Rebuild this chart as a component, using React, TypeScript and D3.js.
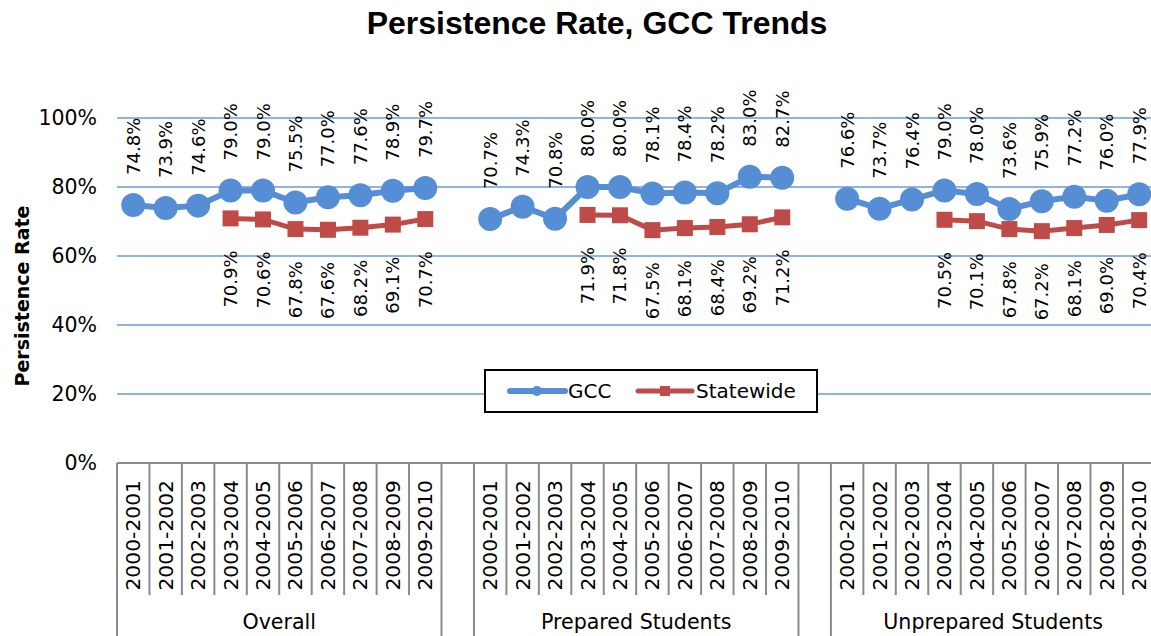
import React from 'react';
import * as d3 from 'd3';

const groups = ['Overall', 'Prepared Students', 'Unprepared Students'];
const years = ['2000-2001', '2001-2002', '2002-2003', '2003-2004', '2004-2005', '2005-2006', '2006-2007', '2007-2008', '2008-2009', '2009-2010'];

const gccOverall = [74.8, 73.9, 74.6, 79.0, 79.0, 75.5, 77.0, 77.6, 78.9, 79.7];
const gccPrepared = [70.7, 74.3, 70.8, 80.0, 80.0, 78.1, 78.4, 78.2, 83.0, 82.7];
const gccUnprepared = [76.6, 73.7, 76.4, 79.0, 78.0, 73.6, 75.9, 77.2, 76.0, 77.9];

const stateOverall = [null, null, null, 70.9, 70.6, 67.8, 67.6, 68.2, 69.1, 70.7];
const statePrepared = [null, null, null, 71.9, 71.8, 67.5, 68.1, 68.4, 69.2, 71.2];
const stateUnprepared = [null, null, null, 70.5, 70.1, 67.8, 67.2, 68.1, 69.0, 70.4];

const yTicks = [0, 20, 40, 60, 80, 100];

const gccSeries = [gccOverall, gccPrepared, gccUnprepared];
const stateSeries = [stateOverall, statePrepared, stateUnprepared];

const W = 1151;
const H = 636;
const GCC_COLOR = '#558ED5';
const STATE_COLOR = '#BE4B48';
const GRID_COLOR = '#8EB4E3';
const AXIS_COLOR = '#8A8A8A';
const FONT = '"DejaVu Sans", Verdana, sans-serif';

type Pt = { key: string; v: number | null };

export default function App() {
  const keys: string[] = [];
  groups.forEach((g, gi) => {
    years.forEach((yr) => keys.push(`${gi}|${yr}`));
    if (gi < groups.length - 1) keys.push(`${gi}|blank`);
  });

  const left = 117;
  const slotW = 32.45;
  const x = d3.scaleBand<string>().domain(keys).range([left, left + keys.length * slotW]).paddingInner(0).paddingOuter(0);
  const y = d3.scaleLinear().domain([0, 100]).range([463, 118]);
  const cx = (k: string) => (x(k) as number) + x.bandwidth() / 2;

  const line = d3
    .line<Pt>()
    .defined((d) => d.v != null)
    .x((d) => cx(d.key))
    .y((d) => y(d.v as number));

  const axisY = y(0);
  const bottom = H + 5;
  const yearDivBottom = 595;

  const groupPts = (series: (number | null)[][]) =>
    series.map((vals, gi) => vals.map((v, i) => ({ key: `${gi}|${years[i]}`, v })));

  const gccPts = groupPts(gccSeries as (number | null)[][]);
  const statePts = groupPts(stateSeries);

  const yearDividers: number[] = [];
  const groupDividers: number[] = [];
  groups.forEach((g, gi) => {
    years.forEach((yr, i) => {
      const xl = x(`${gi}|${yr}`) as number;
      if (i === 0) groupDividers.push(xl);
      else yearDividers.push(xl);
    });
    const last = (x(`${gi}|${years[years.length - 1]}`) as number) + x.bandwidth();
    groupDividers.push(last);
  });

  const fmt = (v: number) => `${v.toFixed(1)}%`;

  return (
    <div style={{ position: 'fixed', left: 0, top: 0, width: W, height: H, overflow: 'hidden', background: '#fff' }}>
      <svg width={W} height={H} style={{ display: 'block' }}>
        <rect x={0} y={0} width={W} height={H} fill="#fff" />
        <text x={597} y={34} textAnchor="middle" fontFamily='"Liberation Sans", Arial, sans-serif' fontWeight="bold" fontSize={32} fill="#000">
          Persistence Rate, GCC Trends
        </text>

        {yTicks.filter((t) => t > 0).map((t) => (
          <line key={t} x1={left} x2={W + 10} y1={y(t)} y2={y(t)} stroke={GRID_COLOR} strokeWidth={2} />
        ))}

        {yTicks.map((t) => (
          <text key={t} x={97} y={y(t)} textAnchor="end" dominantBaseline="central" fontFamily={FONT} fontSize={20.5} fill="#000">
            {`${t}%`}
          </text>
        ))}

        <text transform={`translate(22, 296) rotate(-90)`} textAnchor="middle" dominantBaseline="central" fontFamily={FONT} fontWeight="bold" fontSize={19} fill="#000">
          Persistence Rate
        </text>

        <line x1={left} x2={W + 10} y1={axisY} y2={axisY} stroke={AXIS_COLOR} strokeWidth={2} />
        {yearDividers.map((xv, i) => (
          <line key={`yd${i}`} x1={xv} x2={xv} y1={axisY} y2={yearDivBottom} stroke={AXIS_COLOR} strokeWidth={2} />
        ))}
        {groupDividers.map((xv, i) => (
          <line key={`gd${i}`} x1={xv} x2={xv} y1={axisY} y2={bottom} stroke={AXIS_COLOR} strokeWidth={2} />
        ))}
        {groups.map((g, gi) =>
          years.map((yr) => (
            <text
              key={`${gi}${yr}`}
              transform={`translate(${cx(`${gi}|${yr}`)}, 480) rotate(-90)`}
              textAnchor="end"
              dominantBaseline="central"
              fontFamily={FONT}
              fontSize={20.3}
              fill="#000"
            >
              {yr}
            </text>
          ))
        )}
        {groups.map((g, gi) => {
          const x0 = x(`${gi}|${years[0]}`) as number;
          const x1 = (x(`${gi}|${years[years.length - 1]}`) as number) + x.bandwidth();
          return (
            <text key={g} x={(x0 + x1) / 2} y={629} textAnchor="middle" fontFamily={FONT} fontSize={20.6} fill="#000">
              {g}
            </text>
          );
        })}

        {statePts.map((pts, gi) => (
          <path key={`sl${gi}`} d={line(pts) || ''} fill="none" stroke={STATE_COLOR} strokeWidth={5} />
        ))}
        {statePts.map((pts) =>
          pts.filter((p) => p.v != null).map((p) => (
            <rect key={`sm${p.key}`} x={cx(p.key) - 8} y={y(p.v as number) - 8} width={16} height={16} fill={STATE_COLOR} />
          ))
        )}

        {gccPts.map((pts, gi) => (
          <path key={`gl${gi}`} d={line(pts) || ''} fill="none" stroke={GCC_COLOR} strokeWidth={6} />
        ))}
        {gccPts.map((pts) =>
          pts.map((p) => <circle key={`gm${p.key}`} cx={cx(p.key)} cy={y(p.v as number)} r={12} fill={GCC_COLOR} />)
        )}

        {gccPts.map((pts) =>
          pts.map((p) => (
            <text
              key={`glb${p.key}`}
              transform={`translate(${cx(p.key)}, ${y(p.v as number) - 30}) rotate(-90)`}
              textAnchor="start"
              dominantBaseline="central"
              fontFamily={FONT}
              fontSize={18}
              fill="#000"
            >
              {fmt(p.v as number)}
            </text>
          ))
        )}
        {statePts.map((pts) =>
          pts.filter((p) => p.v != null).map((p) => (
            <text
              key={`slb${p.key}`}
              transform={`translate(${cx(p.key)}, ${y(p.v as number) + 32}) rotate(-90)`}
              textAnchor="end"
              dominantBaseline="central"
              fontFamily={FONT}
              fontSize={18}
              fill="#000"
            >
              {fmt(p.v as number)}
            </text>
          ))
        )}

        <rect x={485} y={370} width={332} height={42} fill="#fff" stroke="#000" strokeWidth={2} />
        <line x1={510} x2={565} y1={391} y2={391} stroke={GCC_COLOR} strokeWidth={6} strokeLinecap="round" />
        <circle cx={537} cy={391} r={5} fill={GCC_COLOR} />
        <text x={568} y={391} dominantBaseline="central" fontFamily={FONT} fontSize={20} fill="#000">
          GCC
        </text>
        <line x1={638} x2={692} y1={391} y2={391} stroke={STATE_COLOR} strokeWidth={5} strokeLinecap="round" />
        <rect x={660} y={386} width={10} height={10} fill={STATE_COLOR} />
        <text x={696} y={391} dominantBaseline="central" fontFamily={FONT} fontSize={20} fill="#000">
          Statewide
        </text>
      </svg>
    </div>
  );
}
